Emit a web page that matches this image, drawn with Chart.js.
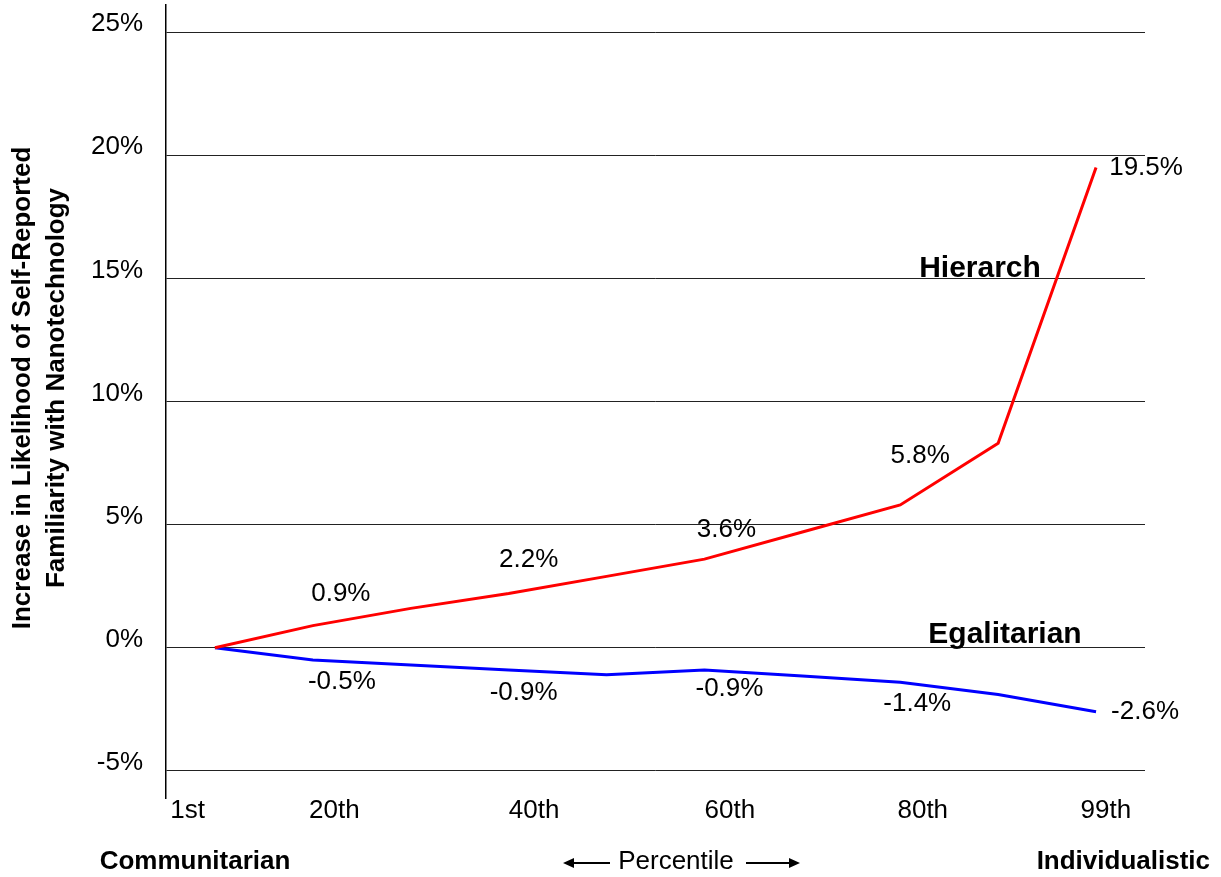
<!DOCTYPE html>
<html>
<head>
<meta charset="utf-8">
<script src="https://cdn.jsdelivr.net/npm/chart.js@4.4.1/dist/chart.umd.min.js"></script>
<style>
    html, body { margin: 0; padding: 0; background: #fff; }
    #wrap { position: relative; width: 1221px; height: 877px; }
</style>
</head>
<body>
<div id="wrap"><canvas id="grafico"></canvas></div>
<script>
// Dados do gráfico
const steps = [0, 1, 2, 3, 4, 5, 6, 7, 8, 9];
const hierarch = [0, 0.9, 1.6, 2.2, 2.9, 3.6, 4.7, 5.8, 8.3, 19.5];
const egalitarian = [0, -0.5, -0.7, -0.9, -1.1, -0.9, -1.15, -1.4, -1.9, -2.6];
const labeledSteps = [1, 3, 5, 7, 9];
const xTickLabels = ["1st", "20th", "40th", "60th", "80th", "99th"];
const yTickValues = [-5, 0, 5, 10, 15, 20, 25];

// Layout (posições dos rótulos, não dados)
const xTickPos = [-0.28, 1.22, 3.26, 5.26, 7.23, 9.1];
const labelOffsets = [
    [[28, -32], [20, -34], [22, -29], [20, -49], [50, 0]],
    [[29, 22], [15, 23], [25, 19], [17, 22], [49, 0]],
];

const FONT = "'Liberation Sans', Arial, sans-serif";
Chart.defaults.font.family = FONT;
Chart.defaults.font.size = 26;
Chart.defaults.color = "#000";

const data = {
    datasets: [
        {
            label: "Hierarch",
            data: steps.map((s, i) => ({ x: s, y: hierarch[i] })),
            borderColor: "#FF0000",
            borderWidth: 3,
            pointRadius: 0,
            tension: 0,
        },
        {
            label: "Egalitarian",
            data: steps.map((s, i) => ({ x: s, y: egalitarian[i] })),
            borderColor: "#0000FF",
            borderWidth: 3,
            pointRadius: 0,
            tension: 0,
        },
    ],
};

// Plugin para textos extras
const extraText = {
    id: "extraText",
    afterDatasetsDraw(chart) {
        const ctx = chart.ctx;
        ctx.save();
        ctx.fillStyle = "#000";
        ctx.font = "26px " + FONT;
        ctx.textBaseline = "middle";
        chart.data.datasets.forEach((ds, d) => {
            const meta = chart.getDatasetMeta(d);
            labeledSteps.forEach((idx, k) => {
                const pt = meta.data[idx];
                const [dx, dy] = labelOffsets[d][k];
                ctx.textAlign = "center";
                ctx.fillText(ds.data[idx].y.toFixed(1) + "%", pt.x + dx, pt.y + dy);
            });
        });

        ctx.font = "bold 30px " + FONT;
        ctx.textAlign = "center";
        ctx.textBaseline = "alphabetic";
        ctx.fillText("Hierarch", 980, 277);
        ctx.fillText("Egalitarian", 1005, 643);

        // título do eixo y
        ctx.font = "bold 26px " + FONT;
        ctx.save();
        ctx.translate(23, 388);
        ctx.rotate(-Math.PI / 2);
        ctx.textBaseline = "middle";
        ctx.fillText("Increase in Likelihood of Self-Reported", 0, 0);
        ctx.fillText("Familiarity with Nanotechnology", 0, 34);
        ctx.restore();

        // rótulos de baixo
        ctx.textBaseline = "middle";
        ctx.fillText("Communitarian", 195, 862);
        ctx.textAlign = "right";
        ctx.fillText("Individualistic", 1210, 862);
        ctx.font = "26px " + FONT;
        ctx.textAlign = "center";
        ctx.fillText("Percentile", 676, 862);

        // setas
        ctx.strokeStyle = "#000";
        ctx.lineWidth = 2;
        ctx.beginPath();
        ctx.moveTo(570, 863); ctx.lineTo(610, 863);
        ctx.moveTo(746, 863); ctx.lineTo(793, 863);
        ctx.stroke();
        ctx.beginPath();
        ctx.moveTo(563, 863); ctx.lineTo(574, 858); ctx.lineTo(574, 868); ctx.closePath();
        ctx.moveTo(800, 863); ctx.lineTo(789, 858); ctx.lineTo(789, 868); ctx.closePath();
        ctx.fill();
        ctx.restore();
    },
};

const options = {
    responsive: true,
    maintainAspectRatio: false,
    animation: false,
    layout: { padding: { top: 5, right: 76, left: 0, bottom: 0 } },
    scales: {
        x: {
            type: "linear",
            min: -0.5,
            max: 9.5,
            afterBuildTicks: (scale) => {
                scale.ticks = xTickPos.map((v) => ({ value: v }));
            },
            afterFit: (scale) => {
                scale.height = 79;
                scale.paddingLeft = 0;
                scale.paddingRight = 0;
            },
            ticks: {
                autoSkip: false,
                maxRotation: 0,
                padding: -3,
                callback: (v, i) => xTickLabels[i],
            },
            grid: { display: false, drawTicks: false },
            border: { display: false },
        },
        y: {
            min: -6.1,
            max: 26.1,
            afterBuildTicks: (scale) => {
                scale.ticks = yTickValues.map((v) => ({ value: v }));
            },
            afterFit: (scale) => {
                scale.width = 166;
                scale.paddingTop = 0;
                scale.paddingBottom = 0;
            },
            ticks: {
                padding: 23,
                labelOffset: -8,
                callback: (v) => v + "%",
            },
            grid: { color: "#222", lineWidth: 1, drawTicks: false },
            border: { display: true, color: "#000", width: 1.5 },
        },
    },
    plugins: {
        legend: { display: false },
        tooltip: { enabled: false },
    },
};

new Chart(document.getElementById("grafico"), {
    type: "line",
    data: data,
    options: options,
    plugins: [extraText],
});
</script>
</body>
</html>
